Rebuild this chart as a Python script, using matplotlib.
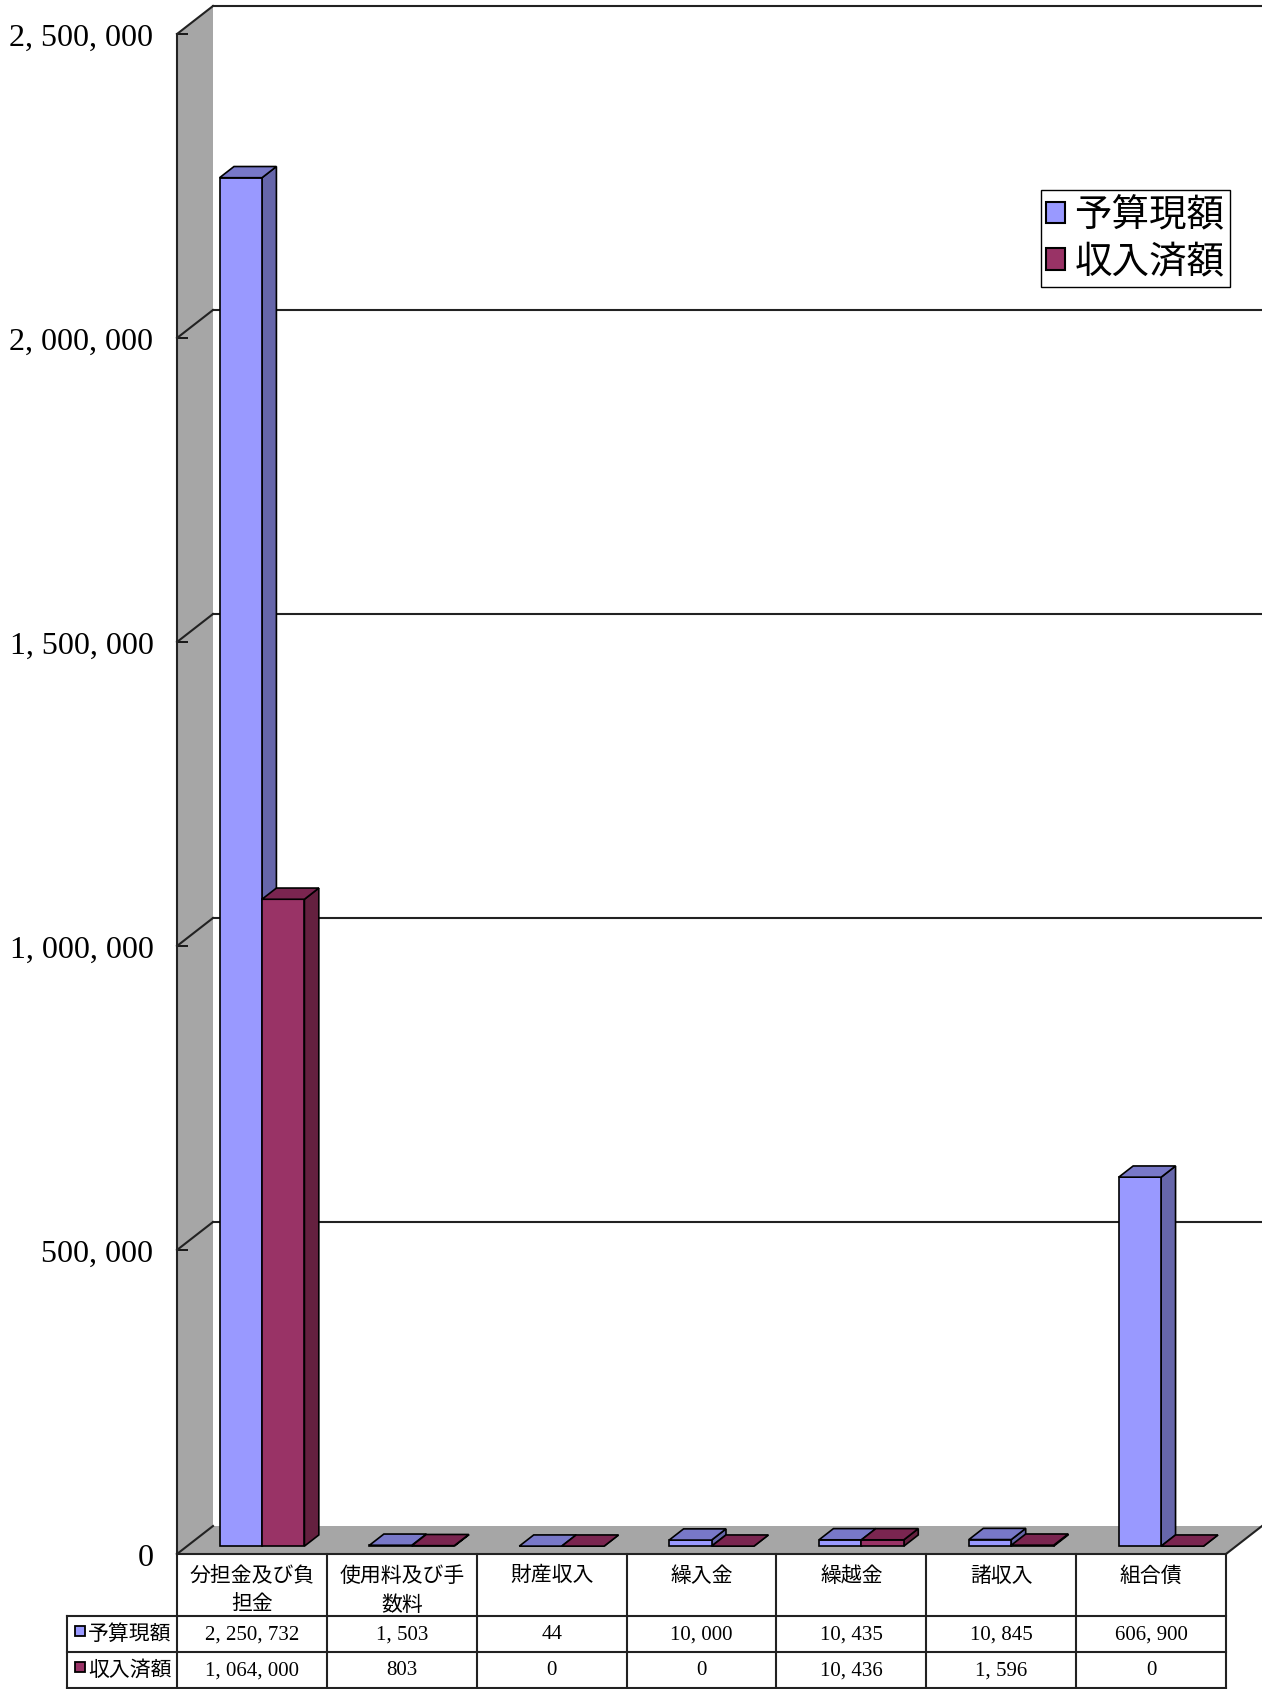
import matplotlib
matplotlib.use("Agg")
import matplotlib.pyplot as plt
import matplotlib.transforms as mtransforms
from matplotlib.patches import Polygon, Patch
from matplotlib.ticker import FuncFormatter

# data
categories = ["分担金及び負担金", "使用料及び手数料", "財産収入", "繰入金", "繰越金", "諸収入", "組合債"]
series_names = ["予算現額", "収入済額"]
budget = [2250732, 1503, 44, 10000, 10435, 10845, 606900]
received = [1064000, 803, 0, 0, 10436, 1596, 0]
y_ticks = [0, 500000, 1000000, 1500000, 2000000, 2500000]

W, H = 1262, 1690
JP = ["Liberation Serif", "Noto Sans CJK JP", "DejaVu Sans"]
plt.rcParams["font.family"] = JP

# front face, side face, top face
colors = {
    "予算現額": ("#9999ff", "#6666aa", "#7878c8"),
    "収入済額": ("#993366", "#64203f", "#7a2550"),
}
GRAY = "#a6a6a6"
DX, DY = 36, 28          # depth offset in pixels
BAR_W = 0.283
D0, D1 = 0.28, 0.68      # bar depth range


def fmt(v):
    return f"{v:,}".replace(",", ", ")


fig = plt.figure(figsize=(W / 100, H / 100), dpi=100)
ax = fig.add_axes([177 / W, (H - 1555) / H, (1226 - 177) / W, (1555 - 35) / H])
ax.set_xlim(0, len(categories))
ax.set_ylim(0, y_ticks[-1])
for s in ax.spines.values():
    s.set_visible(False)
ax.set_xticks([])
ax.set_yticks(y_ticks)
ax.yaxis.set_major_formatter(FuncFormatter(lambda v, p: fmt(int(v))))
ax.tick_params(axis="y", direction="in", length=8, width=1.2, pad=17, labelsize=23)
ax.patch.set_alpha(0)

ident = mtransforms.IdentityTransform()


def proj(x, y, d):
    px, py = ax.transData.transform((x, y))
    return (px + d * DX, py + d * DY)


def poly(pts, fc, zorder, ec="black", lw=1.2):
    p = Polygon(pts, closed=True, facecolor=fc, edgecolor=ec, linewidth=lw,
                transform=ident, clip_on=False, zorder=zorder)
    ax.add_patch(p)


def line(p0, p1, zorder=3, color="#222222", lw=1.5):
    ax.add_line(plt.Line2D([p0[0], p1[0]], [p0[1], p1[1]], color=color, lw=lw,
                           transform=ident, clip_on=False, zorder=zorder))


n = len(categories)
ytop = y_ticks[-1]

# walls
poly([proj(0, 0, 0), proj(0, ytop, 0), proj(0, ytop, 1), proj(0, 0, 1)], GRAY, 1, ec="none")
poly([proj(0, 0, 0), proj(n, 0, 0), proj(n, 0, 1), proj(0, 0, 1)], GRAY, 1, ec="none")

# grid lines and edges
for v in y_ticks:
    if v > 0:
        line(proj(0, v, 1), proj(n, v, 1), zorder=2)
    line(proj(0, v, 0), proj(0, v, 1), zorder=2)
line(proj(0, 0, 0), proj(0, ytop, 0), zorder=2)
line(proj(0, 0, 0), proj(n, 0, 0), zorder=2)
line(proj(n, 0, 0), proj(n, 0, 1), zorder=2)

# bars
z = 5
for i in range(n):
    for j, (name, vals) in enumerate(zip(series_names, [budget, received])):
        fc, sc, tc = colors[name]
        x0 = i + 0.5 - BAR_W + j * BAR_W
        x1 = x0 + BAR_W
        v = vals[i]
        # side
        poly([proj(x1, 0, D0), proj(x1, v, D0), proj(x1, v, D1), proj(x1, 0, D1)], sc, z)
        # front
        poly([proj(x0, 0, D0), proj(x1, 0, D0), proj(x1, v, D0), proj(x0, v, D0)], fc, z + 1)
        # top
        poly([proj(x0, v, D0), proj(x1, v, D0), proj(x1, v, D1), proj(x0, v, D1)], tc, z + 2)
        z += 3

# legend
handles = [Patch(facecolor=colors[s][0], edgecolor="black", linewidth=1.5) for s in series_names]
leg = ax.legend(handles, series_names, loc="upper right",
                bbox_to_anchor=(1230 / W, (H - 191) / H), bbox_transform=fig.transFigure,
                fancybox=False, framealpha=1, edgecolor="black",
                prop={"family": ["Noto Sans CJK JP"], "size": 27},
                handlelength=0.5, handleheight=0.5, handletextpad=0.25,
                borderpad=0.15, labelspacing=0.2, borderaxespad=0)
leg.get_frame().set_linewidth(1.0)
leg.set_zorder(100)

# data table below the plot
bt = mtransforms.blended_transform_factory(ax.transData, fig.transFigure)
ft = fig.transFigure


def fy(py):
    return (H - py) / H


x_left = (67 - 177) / ((1226 - 177) / n)
row_y = [1555, 1617, 1653, 1689]
for yy in row_y[1:]:
    ax.plot([x_left, n], [fy(yy), fy(yy)], color="#222222", lw=1.5, transform=bt, clip_on=False)
for k in range(n + 1):
    ax.plot([k, k], [fy(1555), fy(1690)], color="#222222", lw=1.5, transform=bt, clip_on=False)
ax.plot([x_left, x_left], [fy(1617), fy(1690)], color="#222222", lw=1.5, transform=bt, clip_on=False)

for i, name in enumerate(categories):
    label = name if len(name) <= 6 else name[:6] + "\n" + name[6:]
    ax.text(i + 0.5, fy(1567), label, transform=bt, ha="center", va="top",
            fontsize=15, linespacing=1.65)

for r, (name, vals) in enumerate(zip(series_names, [budget, received])):
    yc = fy((row_y[r + 1] + row_y[r + 2]) / 2)
    ax.plot([80 / W], [yc + 0.002], marker="s", ms=7, mfc=colors[name][0], mec="black",
            mew=1.3, transform=ft, clip_on=False)
    ax.text(88 / W, yc, name, transform=ft, ha="left", va="center", fontsize=15)
    for i, v in enumerate(vals):
        ax.text(i + 0.5, yc, fmt(v), transform=bt, ha="center", va="center", fontsize=15)

fig.savefig("out.png", dpi=100)
